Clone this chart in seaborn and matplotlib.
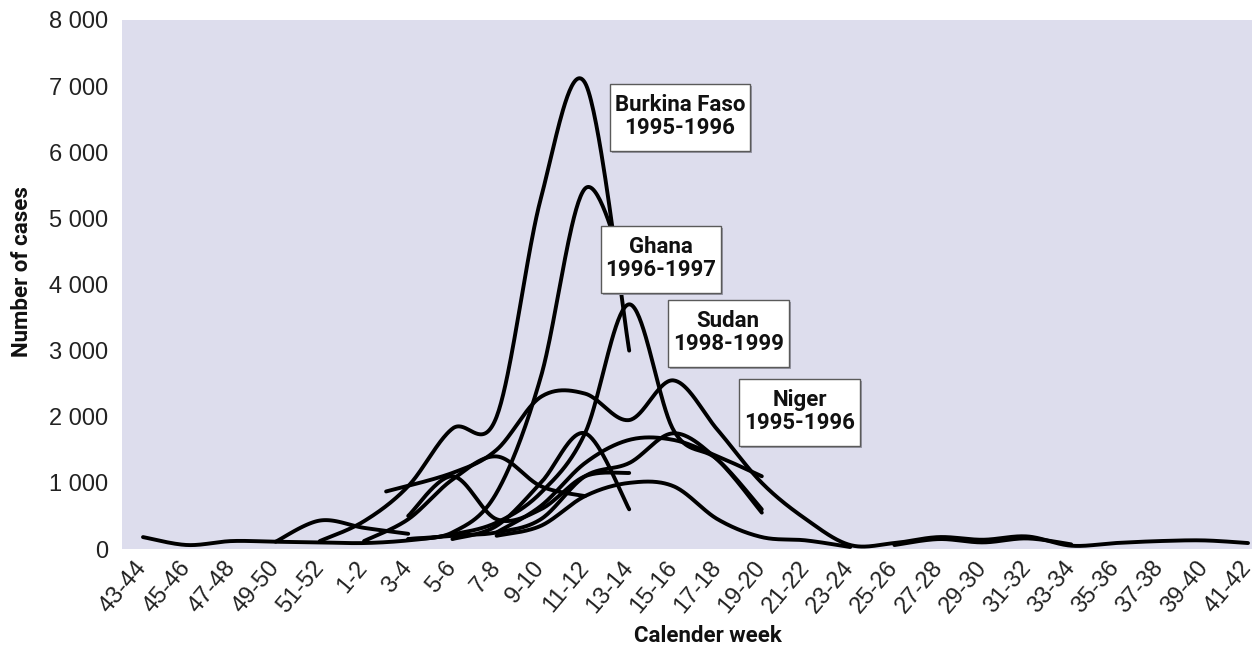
import numpy as np
import pandas as pd
import matplotlib
matplotlib.use("Agg")
import matplotlib.pyplot as plt
import matplotlib.transforms as mtransforms
from matplotlib.patches import Rectangle
import seaborn as sns

# ---------------- data ----------------
categories = ['43-44', '45-46', '47-48', '49-50', '51-52', '1-2', '3-4', '5-6', '7-8',
              '9-10', '11-12', '13-14', '15-16', '17-18', '19-20', '21-22', '23-24',
              '25-26', '27-28', '29-30', '31-32', '33-34', '35-36', '37-38', '39-40', '41-42']

# positions are category indices (0 = '43-44')
burkina_pos = [4, 5, 6, 7, 8, 9, 10, 11]
burkina_cases = [120, 420, 950, 1820, 2000, 5300, 7050, 3000]

ghana_pos = [6, 7, 8, 9, 10, 11]
ghana_cases = [150, 250, 850, 2600, 5450, 4000]

sudan_pos = [0, 1, 2, 3, 4, 5, 6, 7, 8, 9, 10, 11, 12, 13, 14]
sudan_cases = [180, 60, 120, 110, 100, 90, 130, 220, 400, 850, 1750, 3700, 1800, 1350, 550]

niger_pos = [5.5, 7, 8, 9, 10, 11, 12, 13, 14, 15, 16, 17, 18, 19, 20, 21, 22, 23, 24, 25]
niger_cases = [870, 1150, 1500, 2300, 2350, 1950, 2550, 1800, 1000, 450, 60, 90, 180, 140,
               190, 50, 90, 120, 130, 90]

other_a_pos = [3, 4, 5, 6]
other_a_cases = [110, 430, 320, 230]

other_b_pos = [5, 6, 7, 8, 9, 10]
other_b_cases = [120, 450, 1050, 1400, 950, 800]

other_c_pos = [7, 8, 9, 10, 11]
other_c_cases = [150, 350, 1000, 1750, 600]

other_d_pos = [8, 9, 10, 11, 12, 13, 14]
other_d_cases = [250, 650, 1300, 1650, 1650, 1400, 1100]

other_e_pos = [8, 9, 10, 11, 12, 13, 14, 15, 16]
other_e_cases = [200, 350, 800, 1000, 950, 450, 180, 130, 30]

other_f_pos = [6, 7, 8, 9, 10, 11, 12, 13, 14]
other_f_cases = [150, 200, 250, 450, 1100, 1300, 1750, 1350, 600]

other_g_pos = [6, 7, 8, 9, 10, 11]
other_g_cases = [500, 1100, 450, 600, 1100, 1150]

other_h_pos = [17, 18, 19, 20, 21]
other_h_cases = [60, 150, 100, 160, 70]

series = [
    ("Burkina Faso 1995-1996", burkina_pos, burkina_cases),
    ("Ghana 1996-1997", ghana_pos, ghana_cases),
    ("Sudan 1998-1999", sudan_pos, sudan_cases),
    ("Niger 1995-1996", niger_pos, niger_cases),
    ("A", other_a_pos, other_a_cases),
    ("B", other_b_pos, other_b_cases),
    ("C", other_c_pos, other_c_cases),
    ("D", other_d_pos, other_d_cases),
    ("E", other_e_pos, other_e_cases),
    ("F", other_f_pos, other_f_cases),
    ("G", other_g_pos, other_g_cases),
    ("H", other_h_pos, other_h_cases),
]

labels = [
    ("Burkina Faso\n1995-1996", 12.15, 6540),
    ("Ghana\n1996-1997", 11.72, 4390),
    ("Sudan\n1998-1999", 13.24, 3270),
    ("Niger\n1995-1996", 14.86, 2075),
]


# smoothed line rendering (Catmull-Rom, as in spreadsheet "smoothed lines")
def smooth(xs, ys, n=40):
    P = np.column_stack([np.asarray(xs, float), np.asarray(ys, float)])
    P = np.vstack([P[0], P, P[-1]])
    out = []
    for i in range(1, len(P) - 2):
        p0, p1, p2, p3 = P[i - 1], P[i], P[i + 1], P[i + 2]
        t = np.linspace(0, 1, n, endpoint=(i == len(P) - 3))[:, None]
        seg = 0.5 * (2 * p1 + (-p0 + p2) * t + (2 * p0 - 5 * p1 + 4 * p2 - p3) * t ** 2
                     + (-p0 + 3 * p1 - 3 * p2 + p3) * t ** 3)
        out.append(seg)
    return np.vstack(out)


rows = []
for name, xs, ys in series:
    pts = smooth(xs, ys)
    for k, (x, y) in enumerate(pts):
        rows.append({"series": name, "order": k, "x": x, "y": y})
df = pd.DataFrame(rows)

# ---------------- figure ----------------
sns.set_theme(style="white")
plt.rcParams['font.family'] = ['Liberation Sans', 'DejaVu Sans']

W, H = 1260, 648
fig = plt.figure(figsize=(W / 100, H / 100), dpi=100)
ax = fig.add_axes([122 / W, 1 - 549 / H, (1252 - 122) / W, (549 - 20) / H])
ax.set_facecolor('#dddded')

sns.lineplot(data=df, x="x", y="y", units="series", estimator=None, sort=False,
             color="black", linewidth=2.8, legend=False, ax=ax)
for ln in ax.lines:
    ln.set_solid_capstyle('round')
    ln.set_solid_joinstyle('round')

ax.set_xlim(-0.475, 25.09)
ax.set_ylim(0, 8000)
for s in ax.spines.values():
    s.set_visible(False)

yt = np.arange(0, 8001, 1000)
ax.set_yticks(yt)
ax.set_yticklabels([f"{v:,}".replace(",", " ") for v in yt], fontsize=17, color='#222222')
ax.set_xticks(range(len(categories)))
ax.set_xticklabels(categories, fontsize=17, color='#222222', rotation=50,
                   ha='right', va='center', rotation_mode='anchor')
shift = mtransforms.ScaledTranslation(9 / 100, 0, fig.dpi_scale_trans)
for lab in ax.get_xticklabels():
    lab.set_transform(lab.get_transform() + shift)
ax.tick_params(axis='both', length=0)
ax.tick_params(axis='y', pad=10)
ax.tick_params(axis='x', pad=11)
ax.set_xlabel("")
ax.set_ylabel("")

title_font = dict(fontsize=16, fontweight='bold', family=['Roboto', 'DejaVu Sans'], color='#111111')
fig.text(708 / W, 1 - 636 / H, "Calender week", ha='center', va='center', **title_font)
fig.text(22 / W, 1 - 272 / H, "Number of cases", ha='center', va='center',
         rotation=90, **title_font)

texts = []
for txt, x, y in labels:
    t = ax.text(x, y, txt, ha='center', va='center', multialignment='center',
                linespacing=1.05, zorder=6, **title_font)
    texts.append(t)

# white label boxes sized around the text
fig.canvas.draw()
renderer = fig.canvas.get_renderer()
inv = ax.transData.inverted()
for t in texts:
    bb = t.get_window_extent(renderer)
    cx, cy = (bb.x0 + bb.x1) / 2, (bb.y0 + bb.y1) / 2
    w_px, h_px = bb.width + 10, 67
    (x0, y0) = inv.transform((cx - w_px / 2, cy - h_px / 2 - 1))
    (x1, y1) = inv.transform((cx + w_px / 2, cy + h_px / 2 - 1))
    # shadow
    (sx0, sy0) = inv.transform((cx - w_px / 2 + 2, cy - h_px / 2 - 3))
    ax.add_patch(Rectangle((sx0, sy0), x1 - x0, y1 - y0, fc='#9a9aa8', ec='none', zorder=4))
    ax.add_patch(Rectangle((x0, y0), x1 - x0, y1 - y0, fc='white', ec='#5a5a5a',
                           lw=1.0, zorder=5))

fig.savefig("out.png", dpi=100)
